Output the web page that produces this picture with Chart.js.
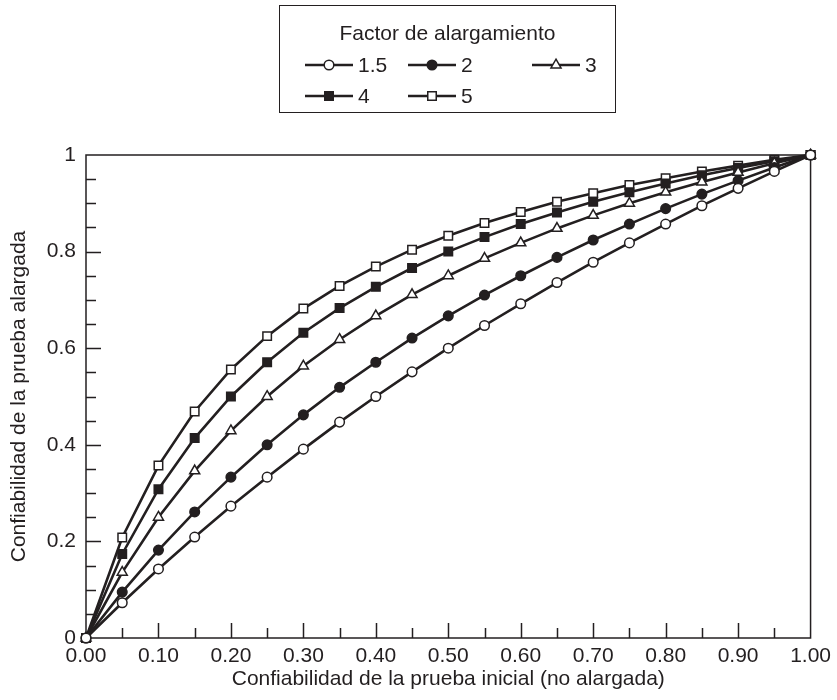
<!DOCTYPE html>
<html>
<head>
<meta charset="utf-8">
<script src="https://cdn.jsdelivr.net/npm/chart.js@4"></script>
<style>
  body { margin: 0; background: #fff; }
  #wrap { position: relative; width: 837px; height: 700px; }
  #legend {
    position: absolute; left: 279px; top: 5px; width: 335px; height: 106px;
    border: 1.5px solid #231f20; font-family: 'Liberation Sans', Arial, sans-serif;
    color: #231f20; font-size: 21px;
  }
  #legend .title { position: absolute; left: 0; right: 0; top: 15px; text-align: center; }
  #legend .item { position: absolute; height: 24px; display: flex; align-items: center; }
  #legend .item span { margin-left: 5px; }
</style>
</head>
<body>
<div id="wrap">
  <canvas id="chart"></canvas>
  <div id="legend"><div class="title">Factor de alargamiento</div></div>
</div>
<script>
// Confiabilidad inicial (eje x)
const rValues = [0, 0.05, 0.10, 0.15, 0.20, 0.25, 0.30, 0.35, 0.40, 0.45, 0.50,
                 0.55, 0.60, 0.65, 0.70, 0.75, 0.80, 0.85, 0.90, 0.95, 1.00];

// Confiabilidad de la prueba alargada
const factor15 = [0, 0.073, 0.143, 0.209, 0.273, 0.333, 0.391, 0.447, 0.500, 0.551, 0.600,
                  0.647, 0.692, 0.736, 0.778, 0.818, 0.857, 0.895, 0.931, 0.966, 1];
const factor2  = [0, 0.095, 0.182, 0.261, 0.333, 0.400, 0.462, 0.519, 0.571, 0.621, 0.667,
                  0.710, 0.750, 0.788, 0.824, 0.857, 0.889, 0.919, 0.947, 0.974, 1];
const factor3  = [0, 0.136, 0.250, 0.346, 0.429, 0.500, 0.563, 0.618, 0.667, 0.711, 0.750,
                  0.786, 0.818, 0.848, 0.875, 0.900, 0.923, 0.944, 0.964, 0.983, 1];
const factor4  = [0, 0.174, 0.308, 0.414, 0.500, 0.571, 0.632, 0.683, 0.727, 0.766, 0.800,
                  0.830, 0.857, 0.881, 0.903, 0.923, 0.941, 0.958, 0.973, 0.987, 1];
const factor5  = [0, 0.208, 0.357, 0.469, 0.556, 0.625, 0.682, 0.729, 0.769, 0.804, 0.833,
                  0.859, 0.882, 0.903, 0.921, 0.938, 0.952, 0.966, 0.978, 0.990, 1];

const seriesLabels = ['1.5', '2', '3', '4', '5'];

const xTickValues = [0, 0.1, 0.2, 0.3, 0.4, 0.5, 0.6, 0.7, 0.8, 0.9, 1];
const xTickLabels = ['0.00', '0.10', '0.20', '0.30', '0.40', '0.50', '0.60', '0.70', '0.80', '0.90', '1.00'];
const yTickValues = [0, 0.2, 0.4, 0.6, 0.8, 1];
const yTickLabels = ['0', '0.2', '0.4', '0.6', '0.8', '1'];

const ink = '#231f20';
const fontFamily = "'Liberation Sans', Arial, sans-serif";

function toPoints(values) {
    return values.map((v, i) => ({ x: rValues[i], y: v }));
}

// marker style per series
const markers = [
    { style: 'circle',   fill: '#ffffff', radius: 4.8 },
    { style: 'circle',   fill: ink,       radius: 4.8 },
    { style: 'triangle', fill: '#ffffff', radius: 5.8 },
    { style: 'rect',     fill: ink,       radius: 6.0 },
    { style: 'rect',     fill: '#ffffff', radius: 6.0 }
];

const allSeries = [factor15, factor2, factor3, factor4, factor5];

const datasets = allSeries.map((values, i) => ({
    label: seriesLabels[i],
    data: toPoints(values),
    borderColor: ink,
    borderWidth: 2.6,
    pointStyle: markers[i].style,
    pointRadius: markers[i].radius,
    pointBackgroundColor: markers[i].fill,
    pointBorderColor: ink,
    pointBorderWidth: 1.5,
    tension: 0,
    clip: false
}));

// frame + inward tick marks
const frameTicks = {
    id: 'frameTicks',
    beforeDatasetsDraw(chart) {
        const { ctx, chartArea: a, scales: { x, y } } = chart;
        ctx.save();
        ctx.strokeStyle = ink;
        ctx.lineWidth = 1.5;
        ctx.strokeRect(a.left, a.top, a.right - a.left, a.bottom - a.top);
        ctx.beginPath();
        for (let i = 1; i < 20; i++) {
            const v = i * 0.05;
            const len = i % 2 === 0 ? 15 : 10;
            const px = Math.round(x.getPixelForValue(v)) + 0.5;
            ctx.moveTo(px, a.bottom);
            ctx.lineTo(px, a.bottom - len);
            const lenY = i % 4 === 0 ? 15 : 10;
            const py = Math.round(y.getPixelForValue(v)) + 0.5;
            ctx.moveTo(a.left, py);
            ctx.lineTo(a.left + lenY, py);
        }
        ctx.stroke();
        ctx.restore();
    }
};

const chart = new Chart(document.getElementById('chart'), {
    type: 'line',
    data: { datasets },
    options: {
        responsive: true,
        maintainAspectRatio: false,
        animation: false,
        layout: { padding: { top: 155, right: 23, left: 0, bottom: 0 } },
        plugins: { legend: { display: false }, tooltip: { enabled: false } },
        scales: {
            x: {
                type: 'linear',
                min: 0,
                max: 1,
                grid: { display: false, drawTicks: false },
                border: { display: false },
                afterBuildTicks: s => { s.ticks = xTickValues.map(v => ({ value: v })); },
                afterFit: s => { s.height = 62; },
                ticks: {
                    autoSkip: false,
                    maxRotation: 0,
                    padding: 6,
                    color: ink,
                    font: { family: fontFamily, size: 21 },
                    callback: (v, i) => xTickLabels[i]
                },
                title: {
                    display: true,
                    text: 'Confiabilidad de la prueba inicial (no alargada)',
                    color: ink,
                    font: { family: fontFamily, size: 21 },
                    padding: { top: 2, bottom: 8 }
                }
            },
            y: {
                type: 'linear',
                min: 0,
                max: 1,
                grid: { display: false, drawTicks: false },
                border: { display: false },
                afterBuildTicks: s => { s.ticks = yTickValues.map(v => ({ value: v })); },
                afterFit: s => { s.width = 86; },
                ticks: {
                    autoSkip: false,
                    padding: 10,
                    color: ink,
                    font: { family: fontFamily, size: 21 },
                    callback: (v, i) => yTickLabels[i]
                },
                title: {
                    display: true,
                    text: 'Confiabilidad de la prueba alargada',
                    color: ink,
                    font: { family: fontFamily, size: 21 },
                    padding: { top: 7, bottom: 2 }
                }
            }
        }
    },
    plugins: [frameTicks]
});

// legend built from the dataset styles
const legendSlots = [
    { left: 25, top: 47 }, { left: 128, top: 47 }, { left: 252, top: 47 },
    { left: 25, top: 78 }, { left: 128, top: 78 }
];

function markerSvg(m) {
    const c = 24, cy = 12;
    let shape;
    if (m.style === 'circle') {
        shape = `<circle cx="${c}" cy="${cy}" r="${m.radius}" fill="${m.fill}" stroke="${ink}" stroke-width="1.5"/>`;
    } else if (m.style === 'rect') {
        const h = m.radius * Math.SQRT1_2;
        shape = `<rect x="${c - h}" y="${cy - h}" width="${2 * h}" height="${2 * h}" fill="${m.fill}" stroke="${ink}" stroke-width="1.5"/>`;
    } else {
        const r = m.radius;
        const p = [[c, cy - r], [c + r * 0.866, cy + r / 2], [c - r * 0.866, cy + r / 2]];
        shape = `<polygon points="${p.map(q => q.join(',')).join(' ')}" fill="${m.fill}" stroke="${ink}" stroke-width="1.5"/>`;
    }
    return `<svg width="48" height="24"><line x1="0" y1="${cy}" x2="48" y2="${cy}" stroke="${ink}" stroke-width="2.4"/>${shape}</svg>`;
}

const legendEl = document.getElementById('legend');
seriesLabels.forEach((label, i) => {
    const item = document.createElement('div');
    item.className = 'item';
    item.style.left = legendSlots[i].left + 'px';
    item.style.top = legendSlots[i].top + 'px';
    item.innerHTML = markerSvg(markers[i]) + '<span>' + label + '</span>';
    legendEl.appendChild(item);
});
</script>
</body>
</html>
